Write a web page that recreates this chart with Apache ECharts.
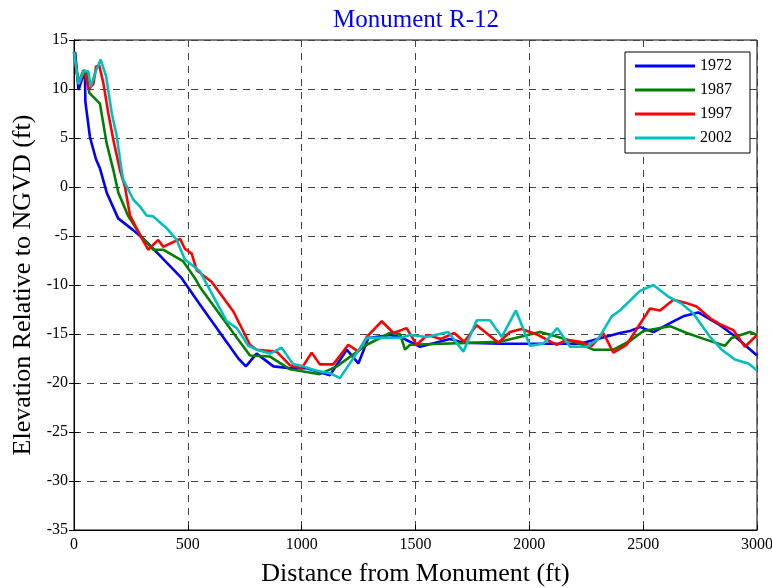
<!DOCTYPE html>
<html>
<head>
<meta charset="utf-8">
<script src="https://cdn.jsdelivr.net/npm/echarts@6/dist/echarts.min.js"></script>
<style>
  html, body { margin: 0; padding: 0; background: #fff; }
  #main { width: 772px; height: 588px; }
</style>
</head>
<body>
<div id="main"></div>
<script>
// profile points: [distance ft, elevation ft]
var years = ["1972", "1987", "1997", "2002"];
var colors = ["#0000ff", "#008000", "#ff0000", "#00bfbf"];
var xTicks = [0, 500, 1000, 1500, 2000, 2500, 3000];
var yTicks = [-35, -30, -25, -20, -15, -10, -5, 0, 5, 10, 15];

var d1972 = [[5,13.8],[20,9.9],[35,11.0],[48,11.6],[50,8.7],[70,5.1],[97,2.8],[114,1.9],[144,-0.6],[194,-3.2],[260,-4.4],[319,-5.6],[473,-9.3],[553,-12.0],[722,-17.5],[755,-18.3],[802,-17.0],[876,-18.3],[949,-18.5],[1022,-18.5],[1124,-19.2],[1198,-16.6],[1249,-18.0],[1293,-15.4],[1388,-15.1],[1432,-15.3],[1520,-16.3],[1651,-15.5],[1710,-15.9],[1871,-16.0],[2222,-16.0],[2398,-14.9],[2442,-14.7],[2486,-14.3],[2545,-14.8],[2618,-13.9],[2676,-13.2],[2742,-12.8],[2837,-14.1],[2896,-15.1],[3000,-17.2]];

var d1987 = [[0,13.8],[19,10.6],[41,11.9],[56,11.8],[67,9.6],[114,8.5],[143,4.5],[173,1.7],[195,-0.6],[239,-3.0],[297,-5.1],[348,-6.4],[392,-6.4],[480,-7.6],[531,-9.3],[553,-10.2],[700,-14.9],[773,-17.2],[861,-17.3],[949,-18.6],[1080,-19.1],[1154,-18.3],[1286,-16.1],[1388,-14.9],[1432,-15.0],[1454,-16.6],[1476,-16.1],[1871,-15.8],[2047,-14.8],[2127,-15.3],[2222,-16.0],[2281,-16.6],[2369,-16.6],[2442,-15.7],[2501,-14.7],[2618,-14.2],[2691,-14.9],[2779,-15.6],[2859,-16.2],[2889,-15.4],[2969,-14.8],[3000,-15.1]];

var d1997 = [[0,13.8],[20,10.5],[45,11.8],[65,10.0],[85,10.5],[97,12.3],[111,12.4],[129,10.6],[151,7.5],[173,4.8],[202,1.7],[224,0.0],[246,-2.9],[290,-4.9],[326,-6.4],[370,-5.4],[392,-6.1],[466,-5.3],[487,-6.3],[517,-6.8],[539,-8.5],[605,-9.7],[700,-12.7],[773,-16.1],[802,-16.6],[890,-16.8],[949,-18.2],[1000,-18.5],[1044,-16.9],[1080,-18.1],[1139,-18.1],[1205,-16.1],[1249,-16.8],[1286,-15.3],[1352,-13.7],[1403,-14.9],[1461,-14.4],[1505,-16.1],[1552,-15.1],[1612,-15.5],[1670,-14.9],[1714,-15.8],[1769,-14.1],[1864,-15.9],[1915,-14.8],[1966,-14.5],[2039,-15.1],[2120,-16.1],[2164,-15.6],[2222,-15.8],[2274,-16.2],[2325,-14.9],[2369,-16.9],[2427,-16.1],[2530,-12.4],[2574,-12.6],[2633,-11.5],[2684,-11.8],[2735,-12.2],[2794,-13.4],[2837,-14.0],[2896,-14.6],[2947,-16.3],[3000,-15.1]];

var d2002 = [[0,13.8],[20,10.5],[41,11.8],[63,11.8],[73,10.2],[92,11.6],[117,13.0],[141,11.3],[166,7.5],[187,5.3],[209,1.7],[217,0.7],[261,-1.3],[290,-2.0],[319,-2.9],[348,-3.0],[407,-4.2],[451,-5.4],[487,-7.4],[553,-8.6],[671,-13.7],[715,-14.4],[766,-16.2],[802,-16.6],[861,-17.0],[912,-16.4],[963,-18.1],[993,-18.2],[1058,-18.7],[1124,-19.0],[1168,-19.5],[1286,-15.4],[1432,-15.4],[1476,-15.1],[1549,-15.3],[1644,-14.8],[1710,-16.8],[1769,-13.6],[1827,-13.6],[1879,-15.3],[1941,-12.6],[2003,-16.2],[2061,-16.0],[2123,-14.4],[2179,-16.3],[2252,-16.3],[2303,-15.5],[2362,-13.2],[2398,-12.6],[2486,-10.6],[2545,-10.0],[2611,-11.2],[2669,-11.9],[2720,-12.9],[2794,-15.3],[2845,-16.6],[2903,-17.6],[2962,-18.0],[3000,-18.7]];

var profiles = [d1972, d1987, d1997, d2002];

var serif = "Liberation Serif, Times New Roman, serif";
var myChart = echarts.init(document.getElementById("main"));

var gridDash = { color: "#444", width: 1, type: [7, 6] };

var option = {
  backgroundColor: "#fff",
  animation: false,
  title: {
    text: "Monument R-12",
    left: 411,
    top: 3,
    textAlign: "center",
    textStyle: { color: "#0000ff", fontFamily: serif, fontSize: 25, fontWeight: "normal" }
  },
  legend: {
    data: years,
    orient: "vertical",
    left: 625,
    top: 52,
    padding: [6, 18, 7, 10],
    icon: "rect",
    itemWidth: 60,
    itemHeight: 3,
    itemGap: 8,
    borderColor: "#000",
    borderWidth: 1,
    backgroundColor: "#fff",
    textStyle: { fontFamily: serif, fontSize: 16, lineHeight: 16, color: "#000" }
  },
  grid: {
    left: 74,
    right: 15,
    top: 40,
    bottom: 58,
    show: true,
    borderColor: "#000",
    borderWidth: 1,
    containLabel: false,
    outerBoundsMode: "none"
  },
  xAxis: [
    {
      type: "value",
      min: 0,
      max: 3000,
      interval: 500,
      name: "Distance from Monument (ft)",
      nameLocation: "middle",
      nameGap: 31,
      nameTextStyle: { fontFamily: serif, fontSize: 26, color: "#000" },
      axisLine: { onZero: false, lineStyle: { color: "#000" } },
      axisTick: { inside: true, length: 5, lineStyle: { color: "#000" } },
      axisLabel: { fontFamily: serif, fontSize: 16, color: "#000", margin: 7,
        formatter: function (v) { return xTicks.indexOf(v) >= 0 ? String(v) : ""; } },
      splitLine: { show: true, lineStyle: gridDash }
    },
    {
      type: "value",
      position: "top",
      min: 0,
      max: 3000,
      interval: 500,
      axisLine: { show: false },
      axisTick: { inside: true, length: 5, lineStyle: { color: "#000" } },
      axisLabel: { show: false },
      splitLine: { show: false }
    }
  ],
  yAxis: [
    {
      type: "value",
      min: -35,
      max: 15,
      interval: 5,
      name: "Elevation Relative to NGVD (ft)",
      nameLocation: "middle",
      nameGap: 28,
      nameTextStyle: { fontFamily: serif, fontSize: 26, color: "#000" },
      axisLine: { onZero: false, lineStyle: { color: "#000" } },
      axisTick: { inside: true, length: 5, lineStyle: { color: "#000" } },
      axisLabel: { fontFamily: serif, fontSize: 16, color: "#000", margin: 6,
        formatter: function (v) { return yTicks.indexOf(v) >= 0 ? String(v) : ""; } },
      splitLine: { show: true, lineStyle: gridDash }
    },
    {
      type: "value",
      position: "right",
      min: -35,
      max: 15,
      interval: 5,
      axisLine: { show: false },
      axisTick: { inside: true, length: 5, lineStyle: { color: "#000" } },
      axisLabel: { show: false },
      splitLine: { show: false }
    }
  ],
  series: years.map(function (y, i) {
    return {
      name: y,
      type: "line",
      data: profiles[i],
      symbol: "none",
      color: colors[i],
      lineStyle: { width: 2.6, color: colors[i] },
      z: 2 + i
    };
  })
};

myChart.setOption(option);
</script>
</body>
</html>
